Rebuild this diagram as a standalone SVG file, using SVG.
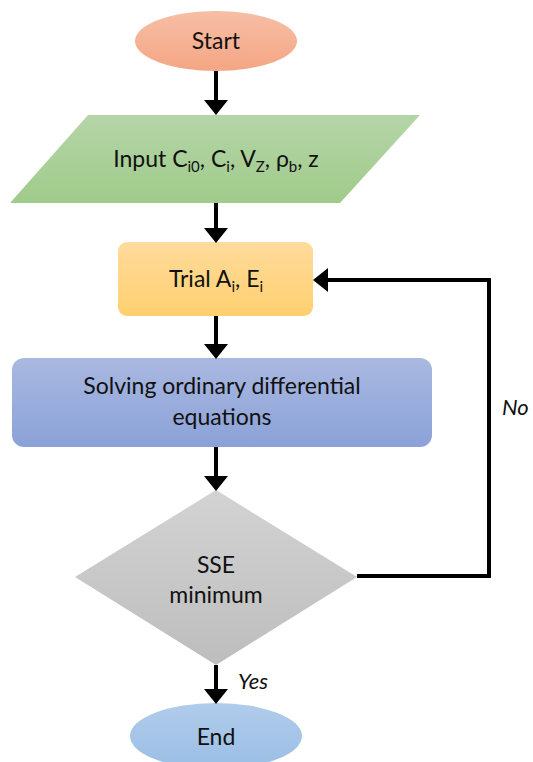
<svg xmlns="http://www.w3.org/2000/svg" width="533" height="762" viewBox="0 0 533 762">
  <defs>
    <linearGradient id="gStart" x1="0" y1="0" x2="0" y2="1">
      <stop offset="0" stop-color="#F7BEA6"/>
      <stop offset="1" stop-color="#F4A684"/>
    </linearGradient>
    <linearGradient id="gInput" x1="0" y1="0" x2="0" y2="1">
      <stop offset="0" stop-color="#B5D5A8"/>
      <stop offset="1" stop-color="#A0CB8A"/>
    </linearGradient>
    <linearGradient id="gTrial" x1="0" y1="0" x2="0" y2="1">
      <stop offset="0" stop-color="#FFDB9C"/>
      <stop offset="1" stop-color="#FFD06F"/>
    </linearGradient>
    <linearGradient id="gSolve" x1="0" y1="0" x2="0" y2="1">
      <stop offset="0" stop-color="#A9B8E0"/>
      <stop offset="1" stop-color="#8BA2D8"/>
    </linearGradient>
    <linearGradient id="gDec" x1="0" y1="0" x2="0" y2="1">
      <stop offset="0" stop-color="#D3D3D3"/>
      <stop offset="1" stop-color="#BDBDBD"/>
    </linearGradient>
    <linearGradient id="gEnd" x1="0" y1="0" x2="0" y2="1">
      <stop offset="0" stop-color="#B0CCEB"/>
      <stop offset="1" stop-color="#9BBEE5"/>
    </linearGradient>
  </defs>
  <style>
    .lbl { font-family: Lato, "Open Sans", "Liberation Sans", sans-serif; font-size: 23px; fill: #111; text-anchor: middle; }
    .sub { font-size: 15px; }
    .note { font-family: Lato, "Open Sans", "Liberation Sans", sans-serif; font-size: 22px; font-style: italic; fill: #111; }
    .wire { fill: none; stroke: #000; stroke-width: 4; }
    .head { fill: #000; }
  </style>

  <g id="start">
    <ellipse cx="216" cy="41" rx="81" ry="30" fill="url(#gStart)"/>
    <text class="lbl" x="216" y="49">Start</text>
  </g>

  <g id="input">
    <polygon points="88,115 420,115 340,203 10,203" fill="url(#gInput)"/>
    <text class="lbl" x="216" y="167">Input C<tspan class="sub" dy="5">i0</tspan><tspan dy="-5">, C</tspan><tspan class="sub" dy="5">i</tspan><tspan dy="-5">, V</tspan><tspan class="sub" dy="5">Z</tspan><tspan dy="-5">, ρ</tspan><tspan class="sub" dy="5">b</tspan><tspan dy="-5">, z</tspan></text>
  </g>

  <g id="trial">
    <rect x="118" y="242" width="195" height="74" rx="9" fill="url(#gTrial)"/>
    <text class="lbl" x="216" y="287">Trial A<tspan class="sub" dy="5">i</tspan><tspan dy="-5">, E</tspan><tspan class="sub" dy="5">i</tspan></text>
  </g>

  <g id="solve">
    <rect x="12" y="358" width="420" height="89" rx="12" fill="url(#gSolve)"/>
    <text class="lbl" x="222" y="394">Solving ordinary differential</text>
    <text class="lbl" x="222" y="425">equations</text>
  </g>

  <g id="decision">
    <polygon points="216,490 357,577 216,665 75,577" fill="url(#gDec)"/>
    <text class="lbl" x="216" y="573">SSE</text>
    <text class="lbl" x="216" y="603">minimum</text>
  </g>

  <g id="end">
    <ellipse cx="216" cy="736" rx="86" ry="33" fill="url(#gEnd)"/>
    <text class="lbl" x="216" y="745">End</text>
  </g>

  <g id="connectors">
    <line class="wire" x1="216" y1="71" x2="216" y2="104"/>
    <polygon class="head" points="204,100 228,100 216,115"/>

    <line class="wire" x1="216" y1="203" x2="216" y2="232"/>
    <polygon class="head" points="204,228 228,228 216,243"/>

    <line class="wire" x1="216" y1="316" x2="216" y2="348"/>
    <polygon class="head" points="204,344 228,344 216,359"/>

    <line class="wire" x1="216" y1="447" x2="216" y2="480"/>
    <polygon class="head" points="204,476 228,476 216,491"/>

    <line class="wire" x1="216" y1="665" x2="216" y2="694"/>
    <polygon class="head" points="204,689 228,689 216,704"/>

    <polyline class="wire" points="357,576 489,576 489,280 324,280"/>
    <polygon class="head" points="328,268 328,292 313,280"/>

    <text class="note" x="502" y="415">No</text>
    <text class="note" x="238" y="689">Yes</text>
  </g>
</svg>
